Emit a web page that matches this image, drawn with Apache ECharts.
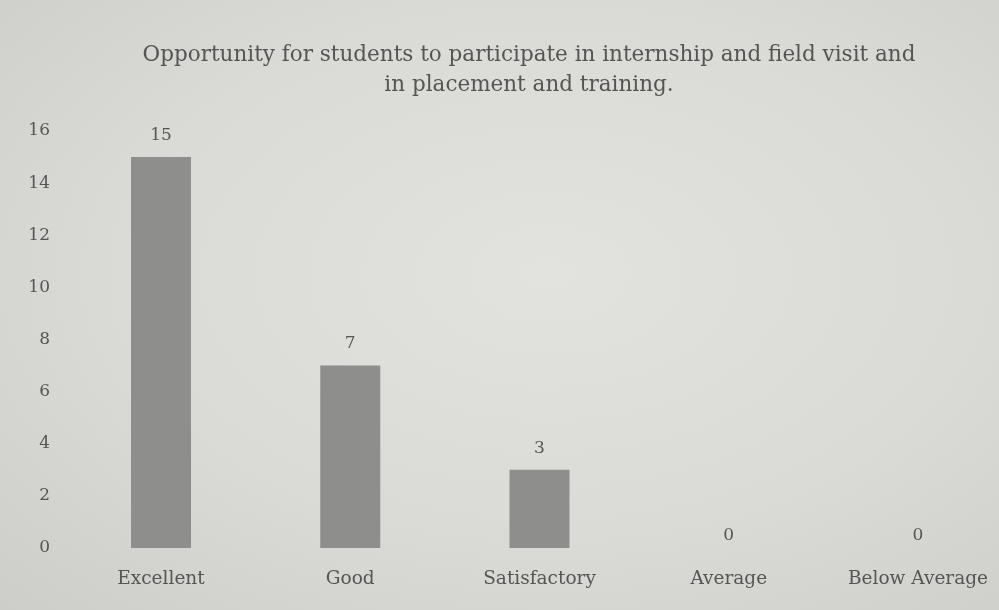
<!DOCTYPE html>
<html>
<head>
<meta charset="utf-8">
<script src="https://cdn.jsdelivr.net/npm/echarts@6/dist/echarts.min.js"></script>
<style>
    html, body { margin: 0; padding: 0; }
    #chart {
        width: 999px;
        height: 610px;
        background: radial-gradient(ellipse at 55% 45%, #e2e2df 0%, #dadad7 55%, #cdcdca 100%);
    }
</style>
</head>
<body>
<div id="chart"></div>
<script>
'use strict';

// 数据
const categories = ['Excellent', 'Good', 'Satisfactory', 'Average', 'Below Average'];
const counts = [15, 7, 3, 0, 0];
const titleText = 'Opportunity for students to participate in internship and field visit and\nin placement and training.';

const serif = 'DejaVu Serif';
const textColor = '#555553';

const myChart = echarts.init(document.getElementById('chart'));

// 零值标签贴近基线
const barData = counts.map(v => ({
    value: v,
    label: { distance: v === 0 ? 4 : 13 }
}));

const option = {
    backgroundColor: 'transparent',
    textStyle: { fontFamily: serif },
    title: {
        text: titleText,
        left: 524,
        top: 35,
        textAlign: 'center',
        textStyle: {
            fontFamily: serif,
            fontWeight: 'normal',
            fontSize: 21.5,
            lineHeight: 30,
            color: textColor
        }
    },
    grid: { left: 161, top: 131, width: 757, height: 417, containLabel: false },
    xAxis: {
        type: 'category',
        data: categories,
        boundaryGap: false,
        axisLine: { show: false },
        axisTick: { show: false },
        axisLabel: {
            fontFamily: serif,
            fontSize: 18.5,
            color: textColor,
            margin: 22,
            interval: 0
        }
    },
    yAxis: {
        type: 'value',
        min: 0,
        max: 16,
        interval: 2,
        splitLine: { show: false },
        axisLine: { show: false },
        axisTick: { show: false },
        axisLabel: {
            fontFamily: serif,
            fontSize: 17,
            color: textColor,
            margin: 111
        }
    },
    series: [{
        type: 'bar',
        data: barData,
        barWidth: 60,
        itemStyle: { color: '#8e8e8c' },
        label: {
            show: true,
            position: 'top',
            fontFamily: serif,
            fontSize: 17,
            color: textColor
        }
    }]
};

myChart.setOption(option);
</script>
</body>
</html>
